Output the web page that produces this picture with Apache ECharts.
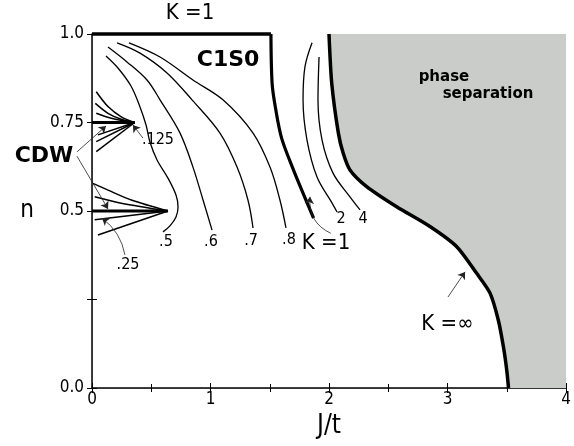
<!DOCTYPE html>
<html><head><meta charset="utf-8">
<script src="https://cdn.jsdelivr.net/npm/echarts@6/dist/echarts.min.js"></script>
<style>html,body{margin:0;padding:0;background:#fff}#c{width:574px;height:446px}</style>
</head><body><div id="c"></div>
<script>
// ---- data (J/t, n) ----
const xTickValues = [0, 1, 2, 3, 4];
const yTickText = { '0': '0.0', '0.25': '', '0.5': '0.5', '0.75': '0.75', '1': '1.0' };

const phaseBoundary = [[2.00,1.0],[2.023,0.861],[2.079,0.72],[2.12,0.663],[2.177,0.616],[2.318,0.569],[2.571,0.512],[2.852,0.456],[3.078,0.399],[3.246,0.324],[3.359,0.268],[3.43,0.19],[3.475,0.11],[3.50,0.05],[3.515,0.0]];
const phaseCorners = [[4,0],[4,1]];
const k1Top = [[0,1],[1.51,1]];
const k1Boundary = [[1.51,1.0],[1.52,0.86],[1.55,0.788],[1.60,0.706],[1.70,0.616],[1.78,0.551],[1.87,0.48]];

const contour05 = [[0.118,0.938],[0.219,0.904],[0.329,0.853],[0.405,0.794],[0.456,0.743],[0.489,0.695],[0.549,0.644],[0.641,0.593],[0.709,0.545],[0.726,0.511],[0.709,0.483],[0.658,0.458],[0.599,0.441]];
const contour06 = [[0.135,0.963],[0.295,0.921],[0.464,0.870],[0.574,0.814],[0.743,0.720],[0.852,0.624],[0.937,0.531],[1.013,0.446]];
const contour07 = [[0.211,0.975],[0.405,0.946],[0.633,0.890],[0.844,0.814],[1.080,0.720],[1.224,0.624],[1.316,0.531],[1.359,0.452]];
const contour08 = [[0.312,0.975],[0.574,0.935],[0.852,0.870],[1.105,0.814],[1.359,0.720],[1.502,0.624],[1.586,0.531],[1.637,0.452]];
const contour2 = [[1.857,0.975],[1.797,0.907],[1.781,0.814],[1.814,0.701],[1.899,0.596],[2.025,0.523],[2.068,0.497]];
const contour4 = [[1.916,0.935],[1.907,0.814],[1.941,0.701],[2.034,0.607],[2.177,0.540],[2.262,0.503]];

const cdw075Thin = [
  [[0.036,0.837],[0.135,0.795],[0.247,0.766],[0.36,0.75]],
  [[0.028,0.804],[0.135,0.776],[0.247,0.759],[0.36,0.75]],
  [[0.036,0.776],[0.163,0.762],[0.36,0.75]],
  [[0.05,0.715],[0.36,0.75]],
  [[0.036,0.696],[0.36,0.75]],
  [[0.036,0.668],[0.36,0.75]]
];
const cdw075Axis = [[0,0.75],[0.36,0.75]];
const cdw05Thin = [
  [[0.008,0.578],[0.135,0.559],[0.332,0.531],[0.641,0.5]],
  [[0.023,0.540],[0.247,0.522],[0.641,0.5]],
  [[0.023,0.475],[0.641,0.5]],
  [[0.05,0.432],[0.641,0.5]]
];
const cdw05Axis = [[0,0.5],[0.641,0.5]];

const arrowFrom = [[-0.127,0.667],[-0.127,0.655],[0.43,0.706],[0.278,0.376],[2.015,0.437],[3.004,0.257]];
const arrowTo   = [[0.118,0.740],[0.135,0.506],[0.345,0.743],[0.084,0.48],[1.84,0.54],[3.148,0.328]];
const arrowBend = [0, 0, 0, -0.2, 0.35, 0];

const annoText = ['K =1','C1S0','CDW','.125','.25','.5','.6','.7','.8','2','4','K =1','K =\u221e','phase','separation'];
const annoAt = [[0.827,1.059],[1.148,0.927],[-0.405,0.655],[0.557,0.70],[0.304,0.347],[0.624,0.412],[1.004,0.412],[1.342,0.415],[1.662,0.418],[2.101,0.477],[2.287,0.477],[1.975,0.41],[3.0,0.18],[2.97,0.878],[3.342,0.831]];
const annoKind = ['big','bold','boldBig','small','small','small','small','small','small','small','small','big','big','ps','ps'];

// ---- chart ----
const F = "'DejaVu Sans Condensed','DejaVu Sans',sans-serif";
const FB = "'DejaVu Sans',sans-serif";
const kindStyle = {
  big:     { fontSize: 22, fontFamily: F, fontWeight: 'normal' },
  small:   { fontSize: 16, fontFamily: F, fontWeight: 'normal' },
  bold:    { fontSize: 22, fontFamily: FB, fontWeight: 'bold' },
  boldBig: { fontSize: 22, fontFamily: FB, fontWeight: 'bold' },
  ps:      { fontSize: 15, fontFamily: FB, fontWeight: 'bold' }
};

function curve(data, width, smooth, color) {
  return { type: 'line', data: data, symbol: 'none', showSymbol: false, smooth: smooth,
    lineStyle: { color: color || '#000', width: width }, z: 3, silent: true, clip: false, animation: false };
}

const series = [];
series.push({
  type: 'custom', z: 1, silent: true, clip: false, data: [[0, 0]],
  renderItem: function (params, api) {
    const pts = phaseBoundary.concat(phaseCorners).map(p => api.coord(p));
    return { type: 'polygon', shape: { points: pts }, style: { fill: '#c9ccc9' } };
  }
});
[contour05, contour06, contour07, contour08, contour2, contour4].forEach(c => series.push(curve(c, 1.3, 0.35)));
cdw075Thin.forEach(c => series.push(curve(c, 1.5, 0.3)));
cdw05Thin.forEach(c => series.push(curve(c, 1.5, 0.3)));
series.push(curve(cdw075Axis, 2.8, false));
series.push(curve(cdw05Axis, 2.8, false));
series.push(curve(k1Top, 3.5, false));
series.push(curve(k1Boundary, 3.2, 0.3));
series.push(curve(phaseBoundary, 3.5, 0.25));
series.push({
  type: 'lines', coordinateSystem: 'cartesian2d', z: 5, silent: true, clip: false,
  symbol: ['none', 'arrow'], symbolSize: 7,
  lineStyle: { color: '#222', width: 0.8, opacity: 1 },
  data: arrowFrom.map((f, i) => ({ coords: [f, arrowTo[i]], lineStyle: { curveness: arrowBend[i] } }))
});
series.push({
  type: 'scatter', symbolSize: 0, z: 6, silent: true, clip: false,
  itemStyle: { opacity: 1 },
  data: annoText.map((t, i) => ({
    value: annoAt[i],
    label: Object.assign({ show: true, formatter: t, position: 'inside', color: '#000', opacity: 1,
      align: 'center', verticalAlign: 'middle' }, kindStyle[annoKind[i]])
  }))
});

const tickStyle = { inside: true, length: 5, lineStyle: { color: '#000', width: 1 } };
const minor = { show: true, splitNumber: 2, length: 4, lineStyle: { color: '#000', width: 1 } };

const option = {
  animation: false,
  backgroundColor: '#fff',
  grid: { left: 92, right: 8, top: 34, bottom: 58, containLabel: false },
  xAxis: [
    { type: 'value', position: 'bottom', min: 0, max: 4, interval: 1,
      axisLine: { lineStyle: { color: '#000', width: 1.5 } },
      axisTick: tickStyle, minorTick: minor, splitLine: { show: false },
      axisLabel: { color: '#000', fontSize: 17, fontFamily: F, margin: 3,
        formatter: v => xTickValues.indexOf(v) >= 0 ? String(v) : '' },
      name: 'J/t', nameLocation: 'middle', nameGap: 21,
      nameTextStyle: { color: '#000', fontSize: 26, fontFamily: F } },
    { type: 'value', position: 'top', min: 0, max: 4, interval: 1,
      axisLine: { lineStyle: { color: '#333', width: 1 } },
      axisTick: tickStyle, minorTick: minor, splitLine: { show: false },
      axisLabel: { show: false } }
  ],
  yAxis: [
    { type: 'value', position: 'left', min: 0, max: 1, interval: 0.25,
      axisLine: { lineStyle: { color: '#000', width: 1.5 } },
      axisTick: tickStyle, splitLine: { show: false },
      axisLabel: { color: '#000', fontSize: 17, fontFamily: F, margin: 8,
        formatter: v => yTickText[String(v)] !== undefined ? yTickText[String(v)] : '' },
      name: 'n', nameLocation: 'middle', nameRotate: 0, nameGap: 58,
      nameTextStyle: { color: '#000', fontSize: 24, fontFamily: F, padding: [0, 0, 24, 0] } },
    { type: 'value', position: 'right', min: 0, max: 1, interval: 0.25,
      axisLine: { lineStyle: { color: '#333', width: 1 } },
      axisTick: tickStyle, splitLine: { show: false },
      axisLabel: { show: false } }
  ],
  series: series
};
const chart = echarts.init(document.getElementById('c'));
chart.setOption(option);
</script></body></html>
